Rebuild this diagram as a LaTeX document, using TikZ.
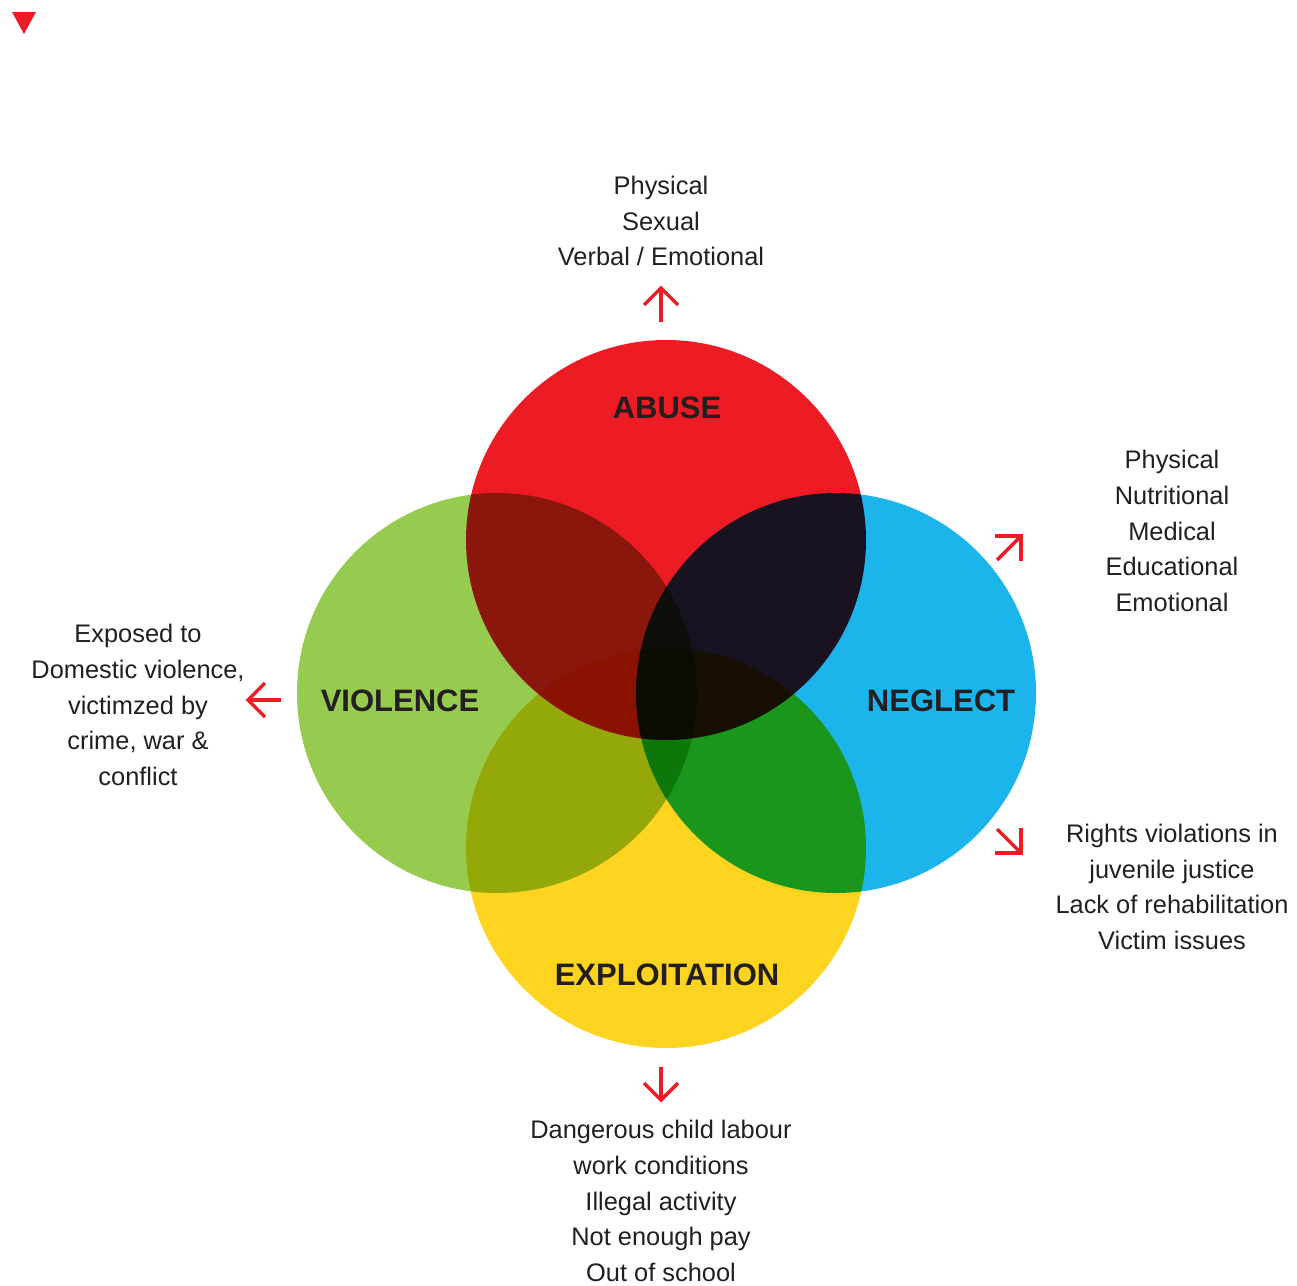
\documentclass[tikz,border=0pt]{standalone}
\usepackage{fontspec}
\setmainfont{Liberation Sans}
\usetikzlibrary{calc}
\definecolor{cred}{HTML}{ED1C24}
\definecolor{cgreen}{HTML}{96CB4F}
\definecolor{cblue}{HTML}{1BB5EC}
\definecolor{cyellow}{HTML}{FDD420}
\definecolor{ink}{HTML}{231F20}
\begin{document}
\begin{tikzpicture}[x=1pt,y=-1pt,
  disk/.style={circle, minimum size=400pt, inner sep=0pt, draw=none},
  biglabel/.style={font=\fontsize{31}{33}\selectfont\bfseries, text=ink, inner sep=0pt},
  listtext/.style={font=\fontsize{25.4}{35.7}\selectfont, text=ink, align=center, inner sep=0pt},
  arr/.style={draw=cred, line width=3.5pt, line cap=butt, line join=miter}]
\useasboundingbox (0,0) rectangle (1297,1285);
\fill[cred] (12,12) -- (36,12) -- (24,34) -- cycle;
\begin{scope}[blend group=multiply]
  \node[disk, fill=cred] (abuse) at (666,540) {};
  \node[disk, fill=cgreen] (violence) at (497,693) {};
  \node[disk, fill=cblue] (neglect) at (836,693) {};
  \node[disk, fill=cyellow] (exploit) at (666,848) {};
\end{scope}
\node[biglabel] (labA) at (667,408) {ABUSE};
\node[biglabel] (labV) at (400,701) {VIOLENCE};
\node[biglabel] (labN) at (941,701) {NEGLECT};
\node[biglabel] (labE) at (667,975) {EXPLOITATION};
\node[listtext] (tA) at (661,221) {Physical\\Sexual\\Verbal / Emotional};
\node[listtext] (tN1) at (1172,531) {Physical\\Nutritional\\Medical\\Educational\\Emotional};
\node[listtext] (tV) at (138,705) {Exposed to\\Domestic violence,\\victimzed by\\crime, war \&\\conflict};
\node[listtext] (tN2) at (1172,887) {Rights violations in\\juvenile justice\\Lack of rehabilitation\\Victim issues};
\node[listtext] (tE) at (661,1201) {Dangerous child labour\\work conditions\\Illegal activity\\Not enough pay\\Out of school};
% arrows
\coordinate (upS) at (661,322); \coordinate (upT) at (661,288);
\draw[arr] (upS) -- (upT);
\draw[arr] ($(upT)+(-17,17)$) -- (upT) -- ($(upT)+(17,17)$);
\coordinate (lfS) at (281,700); \coordinate (lfT) at (248,700);
\draw[arr] (lfS) -- (lfT);
\draw[arr] ($(lfT)+(17,-17)$) -- (lfT) -- ($(lfT)+(17,17)$);
\coordinate (neS) at (997,560); \coordinate (neT) at (1021,536);
\draw[arr] (neS) -- (neT);
\draw[arr] ($(neT)+(-26,0)$) -- (neT) -- ($(neT)+(0,25)$);
\coordinate (seS) at (997,829); \coordinate (seT) at (1021,853);
\draw[arr] (seS) -- (seT);
\draw[arr] ($(seT)+(-26,0)$) -- (seT) -- ($(seT)+(0,-25)$);
\coordinate (dnS) at (661,1067); \coordinate (dnT) at (661,1100);
\draw[arr] (dnS) -- (dnT);
\draw[arr] ($(dnT)+(-17,-17)$) -- (dnT) -- ($(dnT)+(17,-17)$);
\end{tikzpicture}
\end{document}
